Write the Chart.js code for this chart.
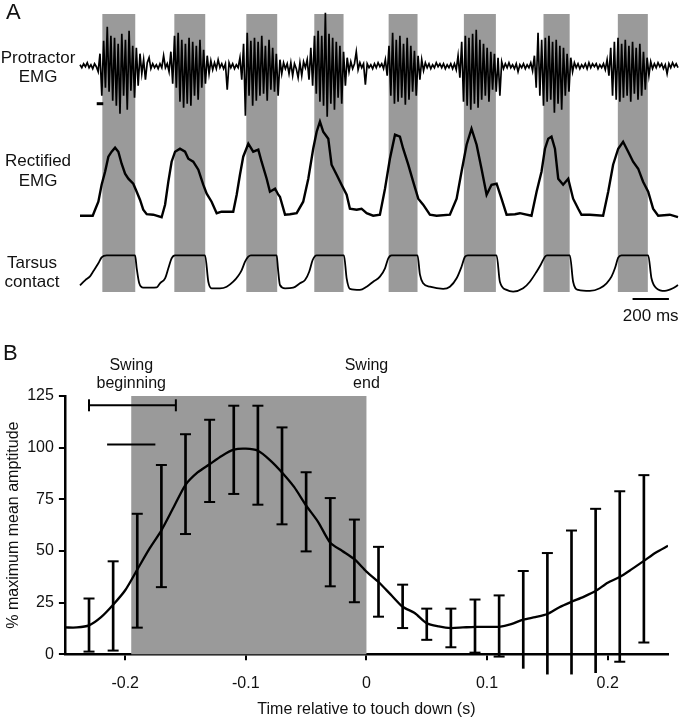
<!DOCTYPE html>
<html><head><meta charset="utf-8">
<script src="https://cdn.jsdelivr.net/npm/chart.js@4.4.1/dist/chart.umd.min.js"></script>
<style>
html,body{margin:0;padding:0;background:#fff;}
#wrap{position:relative;width:680px;height:719px;overflow:hidden;background:#fff;}
canvas{position:absolute;left:0;}
#cA{top:0;}
#cB{top:335px;}
</style></head><body>
<div id="wrap"><canvas id="cA" width="680" height="335"></canvas><canvas id="cB" width="680" height="384"></canvas></div>
<script>
// ---------- Panel A data (time in ms) ----------
const swingStartMs = [123, 519, 915, 1289, 1698, 2112, 2550, 2959];
const swingEndMs   = [304, 689, 1085, 1450, 1857, 2288, 2694, 3124];
const emgStepMs = 10;
const emgSamples = [
 1,-2,2,-1,3,-2,1,-3,2,-1,
 -6,12,-30,25,-22,39,-26,30,-35,28,
 -40,22,-48,32,-30,26,-44,35,-25,20,
 -32,18,-20,12,-8,6,-14,3,8,-3,
 2,-2,1,-3,2,-2,10,-2,2,-6,
 14,-18,30,-22,33,-36,26,-42,22,-38,
 28,-40,24,-30,20,-34,26,-22,16,-18,
 10,-8,5,-4,3,-3,6,-2,2,-3,
 2,-24,3,-2,2,-3,1,-2,8,-14,
 22,-50,33,-30,25,-40,28,-35,24,-30,
 30,-28,20,-35,26,-24,18,-26,12,-30,
 6,-8,3,-3,2,-8,3,-10,2,-3,
 -12,3,-10,4,-2,6,-14,18,-20,30,
 -28,35,-36,30,-40,53,-51,32,-38,28,
 -44,24,-32,20,-38,14,-20,8,-6,4,
 -3,2,14,-4,3,-2,2,-19,2,-2,
 1,-3,2,-2,3,-1,2,-3,6,-10,
 20,-30,33,-38,26,-36,30,-32,22,-39,
 28,-34,20,-26,15,-30,10,-14,6,-5,
 3,-2,2,-3,1,-2,3,-1,2,-2,
 2,-3,1,-2,2,-3,2,-4,10,-12,
 24,-36,30,-40,28,-44,32,-38,36,-42,
 26,-34,22,-30,18,-36,14,-24,12,-26,
 8,-30,4,-3,2,-2,3,-2,1,-3,
 2,-6,1,-2,2,-3,1,-2,3,-5,
 10,-22,33,-30,26,-40,28,-36,30,-34,
 24,-47,26,-38,20,-44,18,-30,12,-26,
 8,-6,3,-2,2,-3,1,-2,2,-3,
 3,-2,2,-1,2,-3,1,-2,2,-4,
 6,-10,18,-30,24,-34,28,-36,22,-32,
 26,-30,20,-36,24,-28,18,-34,22,-30,
 14,-24,8,-10,4,-3,2,-2,3,-1,
 2,-3,1,-8,2,-2,3,-1,2,-2
];
const rectMs = [0,70,83,101,119,138,156,174,193,211,229,248,266,293,312,330,348,367,403,449,
 468,486,504,523,550,578,596,623,651,678,697,724,752,779,816,843,
 862,880,898,926,953,981,999,1027,1045,1073,1091,1100,1128,1155,1192,
 1228,1256,1283,1302,1320,1338,1366,1384,1412,1439,1467,1485,1522,1549,1577,1613,1650,
 1678,1705,1733,1760,1778,1806,1833,1861,1888,1925,1962,2035,
 2072,2099,2127,2154,2182,2209,2237,2264,2292,2319,2347,2393,2420,2484,
 2512,2539,2558,2576,2594,2613,2631,2658,2686,2713,2741,2759,2805,2878,
 2906,2933,2961,2988,3016,3043,3071,3098,3126,3153,3181,3245,3290];
const rectVal = [0,0,6,14,31,44,59,64,68,64,52,42,37,32,24,16,6,1.5,1,-1.5,
 11,34,54,64,67,64,57,54,46,31,22,14,2.5,4,4,4,
 21,41,59,72,64,66,54,37,24,27,21,19,1,1.5,2.5,
 14,37,67,84,94,84,77,51,41,31,21,7,6,7,2.5,0,1,
 27,57,81,79,67,51,34,17,11,1,0,1,
 17,44,71,87,71,47,21,31,32,17,1,1.5,2.5,0,
 24,44,67,77,79,67,37,31,37,17,7,1,1,0,
 24,51,67,74,64,54,47,34,24,7,0,1,-1.5];
const tarsusMs = [0,28,55,73,101,119,147,303,312,326,348,422,440,468,486,504,523,
 688,706,724,770,807,843,871,889,908,926,940,1082,1089,1100,1128,1173,1210,1238,1261,1280,1302,
 1452,1467,1485,1540,1577,1613,1650,1678,1696,1714,1857,1870,1888,1925,1998,2035,2072,2099,2118,2134,
 2292,2310,2347,2383,2438,2475,2512,2534,2558,2569,2695,2713,2741,2805,2860,2897,2924,2943,2961,2979,
 3126,3144,3172,3218,3262,3290];
const tarsusVal = [3,8,12,17,25,31,33,33,20,5,0.6,1,5,10,20,30,33,
 33,6.6,0,0,1.6,6.6,12.6,18,26.6,31.6,33,33,20,3.3,0,0.6,5,8.3,16.6,28.3,33,
 33,10,-0.5,-1.6,1.6,6.6,11.6,20,30,33,33,14,5,1.6,-0.5,1.6,10,21.6,31.6,33,
 33,6.6,-1.6,-3.3,0,6.6,16.6,23.3,31.6,33,33,6.6,-1.6,-2.6,0,5,11.6,20,30.6,33,
 33,10,0,-2.6,0,3.3];
const scaleBarMs = [3040, 3240];
const scaleBarLabel = '200 ms';
const emgMarkerMs = [92, 128];
const emgMarkerLevel = -38;

// ---------- Panel B data ----------
const timeS = [-0.25,-0.24,-0.23,-0.22,-0.21,-0.20,-0.19,-0.18,-0.17,-0.16,-0.15,-0.14,-0.13,-0.12,-0.11,-0.10,
 -0.09,-0.08,-0.07,-0.06,-0.05,-0.04,-0.03,-0.02,-0.01,0.00,0.01,0.02,0.03,0.04,0.05,0.06,0.07,0.08,0.09,0.10,
 0.11,0.12,0.13,0.14,0.15,0.16,0.17,0.18,0.19,0.20,0.21,0.22,0.23,0.24,0.25];
const meanAmp = [13,13,14,18,24,31,41,51,60,71,82,88,92,96,99,99.5,
 98.5,94,88,81,72,64,54,50,46,40,35,29,23,20,15,13.5,12.7,13,13.3,13.3,
 13.3,14.6,16.8,18,19.5,22.8,25.4,27.8,30.6,34.6,37.4,41.2,45.2,49.3,52.5];
const barTimes = [-0.23,-0.21,-0.19,-0.17,-0.15,-0.13,-0.11,-0.09,-0.07,-0.05,-0.03,-0.01,
 0.01,0.03,0.05,0.07,0.09,0.11,0.13,0.15,0.17,0.19,0.21,0.23];
const errHigh = [27,45,68,91.6,106.5,113.5,120.3,120.3,109.8,88.1,75.6,65.2,
 52,33.7,22.1,22.1,26.5,28.5,40.3,49,59.9,70.4,78.9,86.7];
const errLow = [1.3,1.8,12.9,32.5,58.2,73.7,77.6,72.4,62.9,49.8,32.9,25.2,
 18.2,12.7,7,3.4,0.8,-1.1,-6.8,-9.6,-9.6,-8.9,-3.6,5.7];
const swingWindowS = [-0.195, 0];
const swingBeginRangeS = [-0.23, -0.158];
const swingBeginRangeLevel = 120.5;
const swingBeginLineS = [-0.215, -0.175];
const swingBeginLineLevel = 101.5;
const xTickValues = [-0.2, -0.1, 0, 0.1, 0.2];
const yTickValues = [0, 25, 50, 75, 100, 125];

const FONT = '"Liberation Sans", Arial, Helvetica, sans-serif';
const GRAY = '#9a9a9a';

// ---------- Panel A chart ----------
const panelAPlugin = {
  id: 'panelA',
  beforeDatasetsDraw(chart) {
    const {ctx, chartArea, scales} = chart;
    ctx.save();
    ctx.fillStyle = GRAY;
    swingStartMs.forEach((s, i) => {
      const x1 = scales.x.getPixelForValue(s), x2 = scales.x.getPixelForValue(swingEndMs[i]);
      ctx.fillRect(x1, chartArea.top + 1, x2 - x1, chartArea.bottom - chartArea.top);
    });
    ctx.restore();
  },
  afterDraw(chart) {
    const {ctx, chartArea, scales} = chart;
    ctx.save();
    ctx.strokeStyle = '#000';
    const sx1 = scales.x.getPixelForValue(scaleBarMs[0]), sx2 = scales.x.getPixelForValue(scaleBarMs[1]);
    const sy = chartArea.bottom + 8;
    ctx.lineWidth = 2;
    ctx.beginPath(); ctx.moveTo(sx1, sy); ctx.lineTo(sx2, sy); ctx.stroke();
    const my = scales.yEmg.getPixelForValue(emgMarkerLevel);
    ctx.lineWidth = 3;
    ctx.beginPath();
    ctx.moveTo(scales.x.getPixelForValue(emgMarkerMs[0]), my);
    ctx.lineTo(scales.x.getPixelForValue(emgMarkerMs[1]), my);
    ctx.stroke();
    ctx.fillStyle = '#111';
    ctx.textBaseline = 'middle';
    ctx.textAlign = 'center';
    ctx.font = '17px ' + FONT;
    ctx.fillText(scaleBarLabel, (sx1 + sx2) / 2, sy + 17);
    ctx.fillText('Protractor', 38, 58);
    ctx.fillText('EMG', 38, 77);
    ctx.fillText('Rectified', 38, 161);
    ctx.fillText('EMG', 38, 181);
    ctx.fillText('Tarsus', 32, 263);
    ctx.fillText('contact', 32, 282);
    ctx.textAlign = 'left';
    ctx.font = '22px ' + FONT;
    ctx.fillText('A', 6, 13);
    ctx.restore();
  }
};

new Chart(document.getElementById('cA'), {
  type: 'line',
  data: {
    datasets: [
      { label: 'Protractor EMG', data: emgSamples.map((v, i) => ({x: i * emgStepMs, y: v})),
        yAxisID: 'yEmg', borderColor: '#000', borderWidth: 1.7, pointRadius: 0, tension: 0, clip: false },
      { label: 'Rectified EMG', data: rectMs.map((t, i) => ({x: t, y: rectVal[i]})),
        yAxisID: 'yRect', borderColor: '#000', borderWidth: 2.4, pointRadius: 0, tension: 0, clip: false },
      { label: 'Tarsus contact', data: tarsusMs.map((t, i) => ({x: t, y: tarsusVal[i]})),
        yAxisID: 'yTar', borderColor: '#000', borderWidth: 1.8, pointRadius: 0, cubicInterpolationMode: 'monotone', clip: false }
    ]
  },
  options: {
    responsive: false, animation: false, devicePixelRatio: 1,
    layout: { padding: { left: 80, right: 2, top: 13, bottom: 44 } },
    plugins: { legend: { display: false }, tooltip: { enabled: false } },
    scales: {
      x: { type: 'linear', min: 0, max: 3290, display: false },
      yEmg: { type: 'linear', min: -225.3, max: 52.7, display: false },
      yRect: { type: 'linear', min: -75.3, max: 202.7, display: false },
      yTar: { type: 'linear', min: -2.7, max: 275.3, display: false }
    }
  },
  plugins: [panelAPlugin]
});

// ---------- Panel B chart ----------
const panelBPlugin = {
  id: 'panelB',
  beforeDatasetsDraw(chart) {
    const {ctx, scales} = chart;
    ctx.save();
    ctx.fillStyle = GRAY;
    const x1 = scales.x.getPixelForValue(swingWindowS[0]), x2 = scales.x.getPixelForValue(swingWindowS[1]);
    const y1 = scales.y.getPixelForValue(125), y2 = scales.y.getPixelForValue(0);
    ctx.fillRect(x1, y1, x2 - x1, y2 - y1);
    ctx.restore();
  },
  afterDraw(chart) {
    const {ctx, scales} = chart;
    ctx.save();
    ctx.fillStyle = '#111';
    ctx.textBaseline = 'middle';
    ctx.textAlign = 'center';
    ctx.font = '16px ' + FONT;
    const xb = scales.x.getPixelForValue(swingWindowS[0]);
    const xe = scales.x.getPixelForValue(swingWindowS[1]);
    ctx.fillText('Swing', xb, 31);
    ctx.fillText('beginning', xb, 49);
    ctx.fillText('Swing', xe, 31);
    ctx.fillText('end', xe, 49);
    ctx.textAlign = 'left';
    ctx.font = '22px ' + FONT;
    ctx.fillText('B', 3, 19);
    ctx.restore();
  }
};

const capPoints = [];
barTimes.forEach((t, i) => { capPoints.push({x: t, y: errHigh[i]}); capPoints.push({x: t, y: errLow[i]}); });

new Chart(document.getElementById('cB'), {
  type: 'line',
  data: {
    datasets: [
      { type: 'bar', label: 'SD', data: barTimes.map((t, i) => ({x: t, y: [errLow[i], errHigh[i]]})),
        backgroundColor: '#000', borderWidth: 0, barThickness: 2, clip: false, order: 3 },
      { type: 'scatter', label: 'caps', data: capPoints, pointStyle: 'line', pointRadius: 5.5,
        pointBorderWidth: 2, pointBorderColor: '#000', borderColor: '#000', clip: false, order: 2 },
      { type: 'line', label: 'Mean', data: timeS.map((t, i) => ({x: t, y: meanAmp[i]})),
        borderColor: '#000', borderWidth: 2.3, pointRadius: 0, tension: 0.25, order: 1 },
      { type: 'line', label: 'Swing beginning range',
        data: swingBeginRangeS.map(t => ({x: t, y: swingBeginRangeLevel})),
        borderColor: '#000', borderWidth: 2, pointStyle: 'line', pointRotation: 90, pointRadius: 6,
        pointBorderWidth: 2, pointBorderColor: '#000', clip: false, order: 1 },
      { type: 'line', label: 'Swing beginning', data: swingBeginLineS.map(t => ({x: t, y: swingBeginLineLevel})),
        borderColor: '#000', borderWidth: 2, pointRadius: 0, order: 1 }
    ]
  },
  options: {
    responsive: false, animation: false, devicePixelRatio: 1,
    layout: { padding: { left: 0, right: 12, top: 61, bottom: 0 } },
    plugins: { legend: { display: false }, tooltip: { enabled: false } },
    scales: {
      x: {
        type: 'linear', min: -0.25, max: 0.25, offset: false,
        afterBuildTicks: s => { s.ticks = xTickValues.map(v => ({value: v})); },
        grid: { drawOnChartArea: false, color: '#000', lineWidth: 2, tickLength: 6, offset: false },
        border: { color: '#000', width: 2.5 },
        ticks: { font: { size: 16, family: FONT }, color: '#111', padding: 14, maxRotation: 0 },
        title: { display: true, text: 'Time relative to touch down (s)', font: { size: 16, family: FONT },
                 color: '#111', padding: { top: -7.7, bottom: 0 } }
      },
      y: {
        type: 'linear', min: 0, max: 125,
        afterBuildTicks: s => { s.ticks = yTickValues.map(v => ({value: v})); },
        grid: { drawOnChartArea: false, color: '#000', lineWidth: 2, tickLength: 6 },
        border: { color: '#000', width: 2.5 },
        ticks: { font: { size: 16, family: FONT }, color: '#111', padding: 5 },
        title: { display: true, text: '% maximum mean amptitude', font: { size: 16, family: FONT },
                 color: '#111', padding: { top: 4, bottom: -1 } }
      }
    }
  },
  plugins: [panelBPlugin]
});
</script>
</body></html>
